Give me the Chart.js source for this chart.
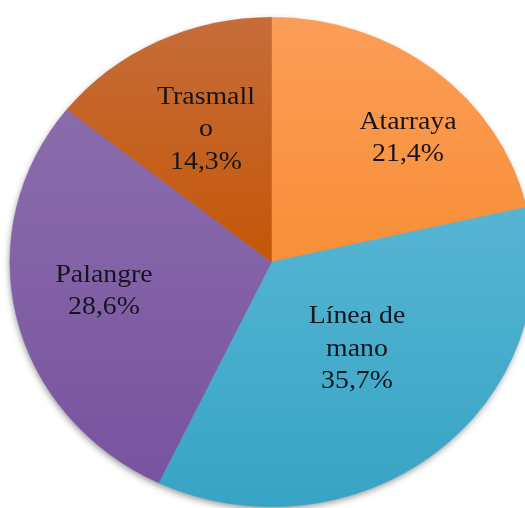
<!DOCTYPE html>
<html>
<head>
<meta charset="utf-8">
<script src="https://cdn.jsdelivr.net/npm/chart.js@4"></script>
<style>
  html, body { margin: 0; padding: 0; background: #fff; overflow: hidden; }
  #wrap { position: relative; width: 525px; height: 508px; }
  .etiqueta {
    position: absolute;
    font-family: "Liberation Serif", "Times New Roman", serif;
    font-size: 26px;
    line-height: 32.5px;
    color: #15151f;
    text-align: center;
    white-space: nowrap;
    transform: translate(-50%, -50%) scaleX(1.069);
  }
</style>
</head>
<body>
<div id="wrap"><canvas id="pie"></canvas></div>
<script>
// --- Datos del gráfico ---
const categorias = ['Atarraya', 'Línea de mano', 'Palangre', 'Trasmallo'];
const porcentajes = [21.4, 35.7, 28.6, 14.3];
// como se parten las etiquetas en el original
const lineasEtiqueta = [['Atarraya'], ['Línea de', 'mano'], ['Palangre'], ['Trasmall', 'o']];

// paradas del degradado vertical (0 = arriba del círculo, 1 = abajo)
const paradasColor = [
  [[0, '#FC9D58'], [0.45, '#F7903A'], [1, '#F68A30']],
  [[0, '#6AC0DB'], [0.45, '#53B3D1'], [1, '#37A4C5']],
  [[0, '#8E73B0'], [0.41, '#8565A8'], [1, '#77519E']],
  [[0, '#C66D3A'], [0.45, '#C4590C'], [1, '#C4590C']]
];

// posición de la etiqueta: fracción del radio y giro en grados respecto al ángulo medio
const ajusteEtiquetas = [
  { r: 0.73, giro: 7 },
  { r: 0.48, giro: -4 },
  { r: 0.65, giro: 3 },
  { r: 0.60, giro: 1 }
];

const ESTIRAR_X = 1.069; // el original está algo estirado en horizontal
const wrap = document.getElementById('wrap');

function degradado(context, i) {
  const chart = context.chart;
  const area = chart.chartArea;
  if (!area) return paradasColor[i][1][1];
  const g = chart.ctx.createLinearGradient(0, area.top, 0, area.bottom);
  paradasColor[i].forEach(p => g.addColorStop(p[0], p[1]));
  return g;
}

// etiquetas como texto HTML encima del canvas
function ponerEtiquetas(chart) {
  wrap.querySelectorAll('.etiqueta').forEach(e => e.remove());
  const meta = chart.getDatasetMeta(0);
  meta.data.forEach((arc, i) => {
    const aj = ajusteEtiquetas[i];
    const medio = (arc.startAngle + arc.endAngle) / 2 + aj.giro * Math.PI / 180;
    const cx = (arc.x + Math.cos(medio) * arc.outerRadius * aj.r) * ESTIRAR_X;
    const cy = arc.y + Math.sin(medio) * arc.outerRadius * aj.r;
    const lineas = lineasEtiqueta[i].concat([porcentajes[i].toFixed(1).replace('.', ',') + '%']);
    const div = document.createElement('div');
    div.className = 'etiqueta';
    div.style.left = cx + 'px';
    div.style.top = cy + 'px';
    div.innerHTML = lineas.join('<br>');
    wrap.appendChild(div);
  });
}

// estira el dibujo en x y pone la sombra
const estiloPlugin = {
  id: 'estilo',
  beforeDraw(chart) {
    chart.ctx.save();
    chart.ctx.scale(ESTIRAR_X, 1);
  },
  beforeDatasetsDraw(chart) {
    const arc = chart.getDatasetMeta(0).data[0];
    if (!arc) return;
    const ctx = chart.ctx;
    ctx.save();
    ctx.shadowColor = 'rgba(0,0,0,0.45)';
    ctx.shadowBlur = 7;
    ctx.shadowOffsetX = -1;
    ctx.shadowOffsetY = 3;
    ctx.fillStyle = '#999';
    ctx.beginPath();
    ctx.arc(arc.x, arc.y, arc.outerRadius - 1, 0, Math.PI * 2);
    ctx.fill();
    ctx.restore();
  },
  afterDraw(chart) {
    chart.ctx.restore();
    ponerEtiquetas(chart);
  }
};

new Chart(document.getElementById('pie'), {
  type: 'pie',
  data: {
    labels: categorias,
    datasets: [{
      data: porcentajes,
      backgroundColor: ctx => degradado(ctx, ctx.dataIndex),
      borderColor: ctx => degradado(ctx, ctx.dataIndex),
      borderWidth: 0.5
    }]
  },
  options: {
    responsive: true,
    maintainAspectRatio: false,
    animation: false,
    layout: { padding: { left: 9, top: 16, right: 26, bottom: 0 } },
    plugins: {
      legend: { display: false },
      tooltip: { enabled: false }
    }
  },
  plugins: [estiloPlugin]
});
</script>
</body>
</html>
